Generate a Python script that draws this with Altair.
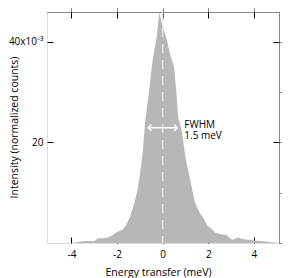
import altair as alt
import pandas as pd

energy = [-5.07, -4.0, -3.7, -3.4, -3.0, -2.85, -2.5, -2.3, -2.0, -1.75, -1.6, -1.43,
          -1.25, -1.07, -0.88, -0.77, -0.6, -0.45, -0.26, -0.15, 0.0, 0.17, 0.35,
          0.5, 0.6, 0.68, 0.85, 1.0, 1.27, 1.42, 1.6, 1.78, 1.95, 2.1, 2.3, 2.5,
          2.8, 3.05, 3.3, 3.5, 4.0, 4.5, 4.9, 5.1]
intensity = [0.0, 0.0, 0.2, 0.4, 0.35, 0.9, 1.0, 1.3, 2.2, 2.7, 3.6, 5.2,
             7.8, 11.2, 17.8, 24.0, 30.0, 36.0, 41.0, 45.8, 43.0, 40.6, 37.0,
             35.0, 30.0, 25.0, 22.0, 17.0, 11.2, 8.0, 6.2, 5.0, 3.5, 3.0, 2.1, 1.8,
             1.6, 0.6, 1.1, 0.8, 0.5, 0.3, 0.1, 0.0]

x_ticks = [-4, -2, 0, 2, 4]
y_ticks = [20, 40]

fwhm_left = -0.63
fwhm_right = 0.64
fwhm_level = 22.9
annotation_lines = ["FWHM", "1.5 meV"]
annotation_x = 0.95
annotation_y = 23.5

df = pd.DataFrame({"E": energy, "I": intensity})
x_dom = [-5.07, 5.1]
y_dom = [0, 45.9]
font = "Open Sans"

xs = alt.Scale(domain=x_dom, nice=False, zero=False)
ys = alt.Scale(domain=y_dom, nice=False)

label_expr = "datum.value == 40 ? '40x10⁻³' : '' + datum.value"

area = alt.Chart(df).mark_area(color="#b7b7b7", interpolate="linear").encode(
    x=alt.X("E:Q", scale=xs, axis=alt.Axis(
        title="Energy transfer (meV)", values=x_ticks, labelExpr="'' + datum.value",
        orient="bottom", offset=-6, tickSize=6, domain=False, grid=False,
        labelPadding=6, labelFontSize=10, titleFontSize=10.5,
        titleX=111, titleY=35, titleAnchor="middle", titleBaseline="middle",
        labelFont=font, titleFont=font, titleFontWeight="normal",
        tickColor="black", labelColor="black", titleColor="black")),
    y=alt.Y("I:Q", scale=ys, axis=alt.Axis(
        title="Intensity (normalized counts)", values=y_ticks, labelExpr=label_expr,
        orient="left", offset=-6, tickSize=6, domain=False, grid=False,
        labelPadding=4, labelFontSize=10, titleFontSize=10.5,
        titleX=-39, titleY=115, titleAngle=-90, titleAnchor="middle",
        titleBaseline="middle",
        labelFont=font, titleFont=font, titleFontWeight="normal",
        tickColor="black", labelColor="black", titleColor="black")),
)

top_axis = alt.Chart(pd.DataFrame({"E": x_ticks})).mark_point(opacity=0).encode(
    x=alt.X("E:Q", scale=xs, axis=alt.Axis(
        orient="top", values=x_ticks, labels=False, title=None, offset=-6,
        tickSize=6, domain=False, grid=False, tickColor="black")),
)
right_axis = alt.Chart(pd.DataFrame({"I": y_ticks})).mark_point(opacity=0).encode(
    y=alt.Y("I:Q", scale=ys, axis=alt.Axis(
        orient="right", values=y_ticks, labels=False, title=None, offset=-6,
        tickSize=6, domain=False, grid=False, tickColor="black")),
)

center = alt.Chart(pd.DataFrame({"E": [0]})).mark_rule(
    color="#e6e6e6", strokeDash=[9, 7], strokeWidth=1.5).encode(x=alt.X("E:Q", scale=xs))

arrow_df = pd.DataFrame({"x1": [fwhm_left], "x2": [fwhm_right], "y": [fwhm_level]})
arrow_line = alt.Chart(arrow_df).mark_rule(color="white", strokeWidth=1.5).encode(
    x=alt.X("x1:Q", scale=xs), x2="x2:Q", y=alt.Y("y:Q", scale=ys))

heads_df = pd.DataFrame({"x": [fwhm_left, fwhm_right], "y": [fwhm_level] * 2,
                         "side": ["L", "R"]})
left_head = alt.Chart(heads_df[heads_df.side == "L"]).mark_point(
    shape="M 1 -1 L 0 0 L 1 1", filled=False, stroke="white", strokeWidth=1.5,
    size=40, opacity=1).encode(x=alt.X("x:Q", scale=xs), y=alt.Y("y:Q", scale=ys))
right_head = alt.Chart(heads_df[heads_df.side == "R"]).mark_point(
    shape="M -1 -1 L 0 0 L -1 1", filled=False, stroke="white", strokeWidth=1.5,
    size=40, opacity=1).encode(x=alt.X("x:Q", scale=xs), y=alt.Y("y:Q", scale=ys))

text_df = pd.DataFrame({"x": [annotation_x], "y": [annotation_y],
                        "t": ["\n".join(annotation_lines)]})
label = alt.Chart(text_df).mark_text(
    align="left", baseline="middle", font=font, fontSize=10, color="black",
    lineBreak="\n", lineHeight=11).encode(
    x=alt.X("x:Q", scale=xs), y=alt.Y("y:Q", scale=ys), text="t:N")

chart = alt.layer(area, center, arrow_line, left_head, right_head, label,
                  top_axis, right_axis).properties(
    width=232, height=231,
    autosize=alt.AutoSizeParams(type="none"),
    padding={"left": 39, "top": 4, "right": 3, "bottom": 35},
).configure_view(stroke="black", strokeWidth=1).configure(background="white")

chart.save("out.html", embed_options={"renderer": "svg", "actions": False})
